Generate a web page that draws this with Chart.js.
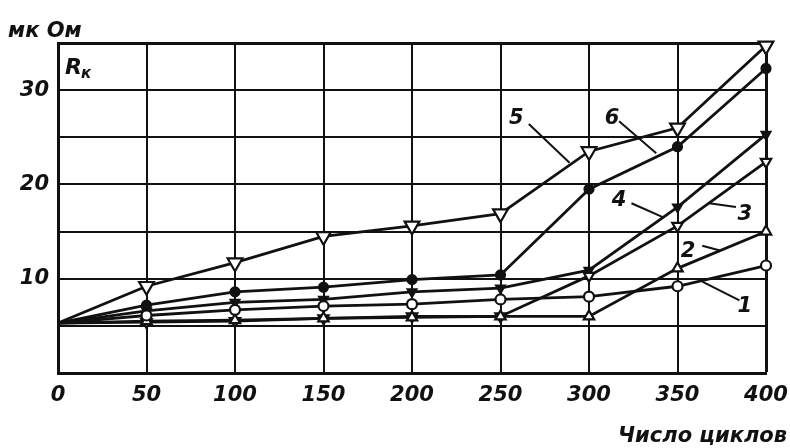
<!DOCTYPE html>
<html><head><meta charset="utf-8">
<script src="https://cdn.jsdelivr.net/npm/chart.js@4/dist/chart.umd.min.js"></script>
<style>html,body{margin:0;padding:0;background:#fff}</style>
</head><body>
<canvas id="c" width="790" height="448"></canvas>
<script>
// ---- data ----
const cycles = [0, 50, 100, 150, 200, 250, 300, 350, 400];
const curve1 = [5.3, 6.1, 6.7, 7.1, 7.3, 7.8, 8.1, 9.2, 11.4];
const curve2 = [5.3, 5.5, 5.6, 5.8, 5.9, 6.0, 6.0, 11.1, 15.0];
const curve3 = [5.3, 5.4, 5.5, 5.8, 6.0, 6.0, 10.3, 15.6, 22.4];
const curve4 = [5.3, 6.6, 7.5, 7.8, 8.6, 9.0, 10.9, 17.6, 25.3];
const curve5 = [5.3, 9.2, 11.7, 14.5, 15.6, 16.9, 23.5, 26.0, 34.7];
const curve6 = [5.3, 7.2, 8.6, 9.1, 9.9, 10.4, 19.5, 24.0, 32.3];
const xTicks = [0, 50, 100, 150, 200, 250, 300, 350, 400];
const yTickLabels = [10, 20, 30];
const yUnit = 'мк Ом';
const xTitle = 'Число циклов';
// curve labels with leader lines (data coordinates)
const curveLabels = [
  {t: '5', x: 259, y: 27.0, from: [266, 26.4], to: [289, 22.3]},
  {t: '6', x: 313, y: 27.0, from: [317, 26.7], to: [338, 23.3]},
  {t: '4', x: 317, y: 18.3, from: [324, 18.0], to: [342, 16.5]},
  {t: '3', x: 388, y: 16.8, from: [383, 17.6], to: [368, 18.0]},
  {t: '2', x: 356, y: 12.9, from: [364, 13.5], to: [374, 13.0]},
  {t: '1', x: 388, y: 7.0, from: [385, 7.7], to: [364, 9.7]}
];

const INK = '#111';
const FONT = '"DejaVu Sans", sans-serif';

function pts(arr){ return cycles.map((c,i)=>({x:c, y:arr[i]})); }
function ds(arr, style, radius, rot, fill){
  return {
    data: pts(arr), borderColor: INK, borderWidth: 2.8,
    pointStyle: style, pointRotation: rot,
    pointRadius: ctx => ctx.dataIndex === 0 ? 0 : radius,
    pointBackgroundColor: fill, pointBorderColor: INK, pointBorderWidth: 2.2,
    tension: 0, clip: false
  };
}

const textPlugin = {
  id: 'texts',
  afterDatasetsDraw(chart){
    const {ctx, scales:{x, y}} = chart;
    ctx.save();
    ctx.fillStyle = INK; ctx.strokeStyle = INK; ctx.lineWidth = 2;
    ctx.font = 'italic bold 21px ' + FONT;
    ctx.textAlign = 'center'; ctx.textBaseline = 'middle';
    curveLabels.forEach(l => {
      ctx.beginPath();
      ctx.moveTo(x.getPixelForValue(l.from[0]), y.getPixelForValue(l.from[1]));
      ctx.lineTo(x.getPixelForValue(l.to[0]), y.getPixelForValue(l.to[1]));
      ctx.stroke();
      ctx.fillText(l.t, x.getPixelForValue(l.x), y.getPixelForValue(l.y));
    });
    // unit and axis titles
    ctx.textBaseline = 'alphabetic';
    ctx.textAlign = 'left';
    ctx.font = 'italic bold 21px ' + FONT;
    ctx.fillText(yUnit, 8, 37);
    ctx.font = 'italic bold 22px ' + FONT;
    ctx.fillText('R', chart.chartArea.left + 7, chart.chartArea.top + 31);
    ctx.font = 'italic bold 15px ' + FONT;
    ctx.fillText('к', chart.chartArea.left + 23, chart.chartArea.top + 35);
    ctx.textAlign = 'right';
    ctx.font = 'italic bold 21px ' + FONT;
    ctx.fillText(xTitle, 787, 442);
    ctx.restore();
  }
};

new Chart(document.getElementById('c'), {
  type: 'line',
  data: { datasets: [
    ds(curve1, 'circle', 5, 0, '#fff'),
    ds(curve2, 'triangle', 6, 0, '#fff'),
    ds(curve3, 'triangle', 6, 180, '#fff'),
    ds(curve4, 'triangle', 5, 180, INK),
    ds(curve5, 'triangle', 8.5, 180, '#fff'),
    ds(curve6, 'circle', 4.5, 0, INK)
  ]},
  options: {
    responsive: false, animation: false, devicePixelRatio: 1,
    layout: { padding: { top: 43, right: 24, left: 0, bottom: 0 } },
    plugins: { legend: { display: false }, tooltip: { enabled: false } },
    scales: {
      x: {
        type: 'linear', min: 0, max: 400,
        afterBuildTicks: s => { s.ticks = xTicks.map(v => ({value: v})); },
        afterFit: s => { s.height = 75; s.paddingLeft = 0; s.paddingRight = 0; },
        ticks: { color: INK, font: { family: FONT, size: 21, style: 'italic', weight: 'bold' }, padding: 10, maxRotation: 0 },
        grid: { color: INK, lineWidth: c => (c.tick && (c.tick.value === 400)) ? 3 : 2, drawTicks: false },
        border: { display: true, color: INK, width: 3 }
      },
      y: {
        min: 0, max: 35,
        ticks: { stepSize: 5, color: INK, font: { family: FONT, size: 21, style: 'italic', weight: 'bold' }, padding: 9,
                 callback: v => yTickLabels.includes(v) ? String(v) : '' },
        afterFit: s => { s.width = 58; s.paddingTop = 0; s.paddingBottom = 0; },
        grid: { color: INK, lineWidth: c => (c.tick && c.tick.value === 35) ? 3 : 2, drawTicks: false },
        border: { display: true, color: INK, width: 3 }
      }
    }
  },
  plugins: [textPlugin]
});
</script>
</body></html>
